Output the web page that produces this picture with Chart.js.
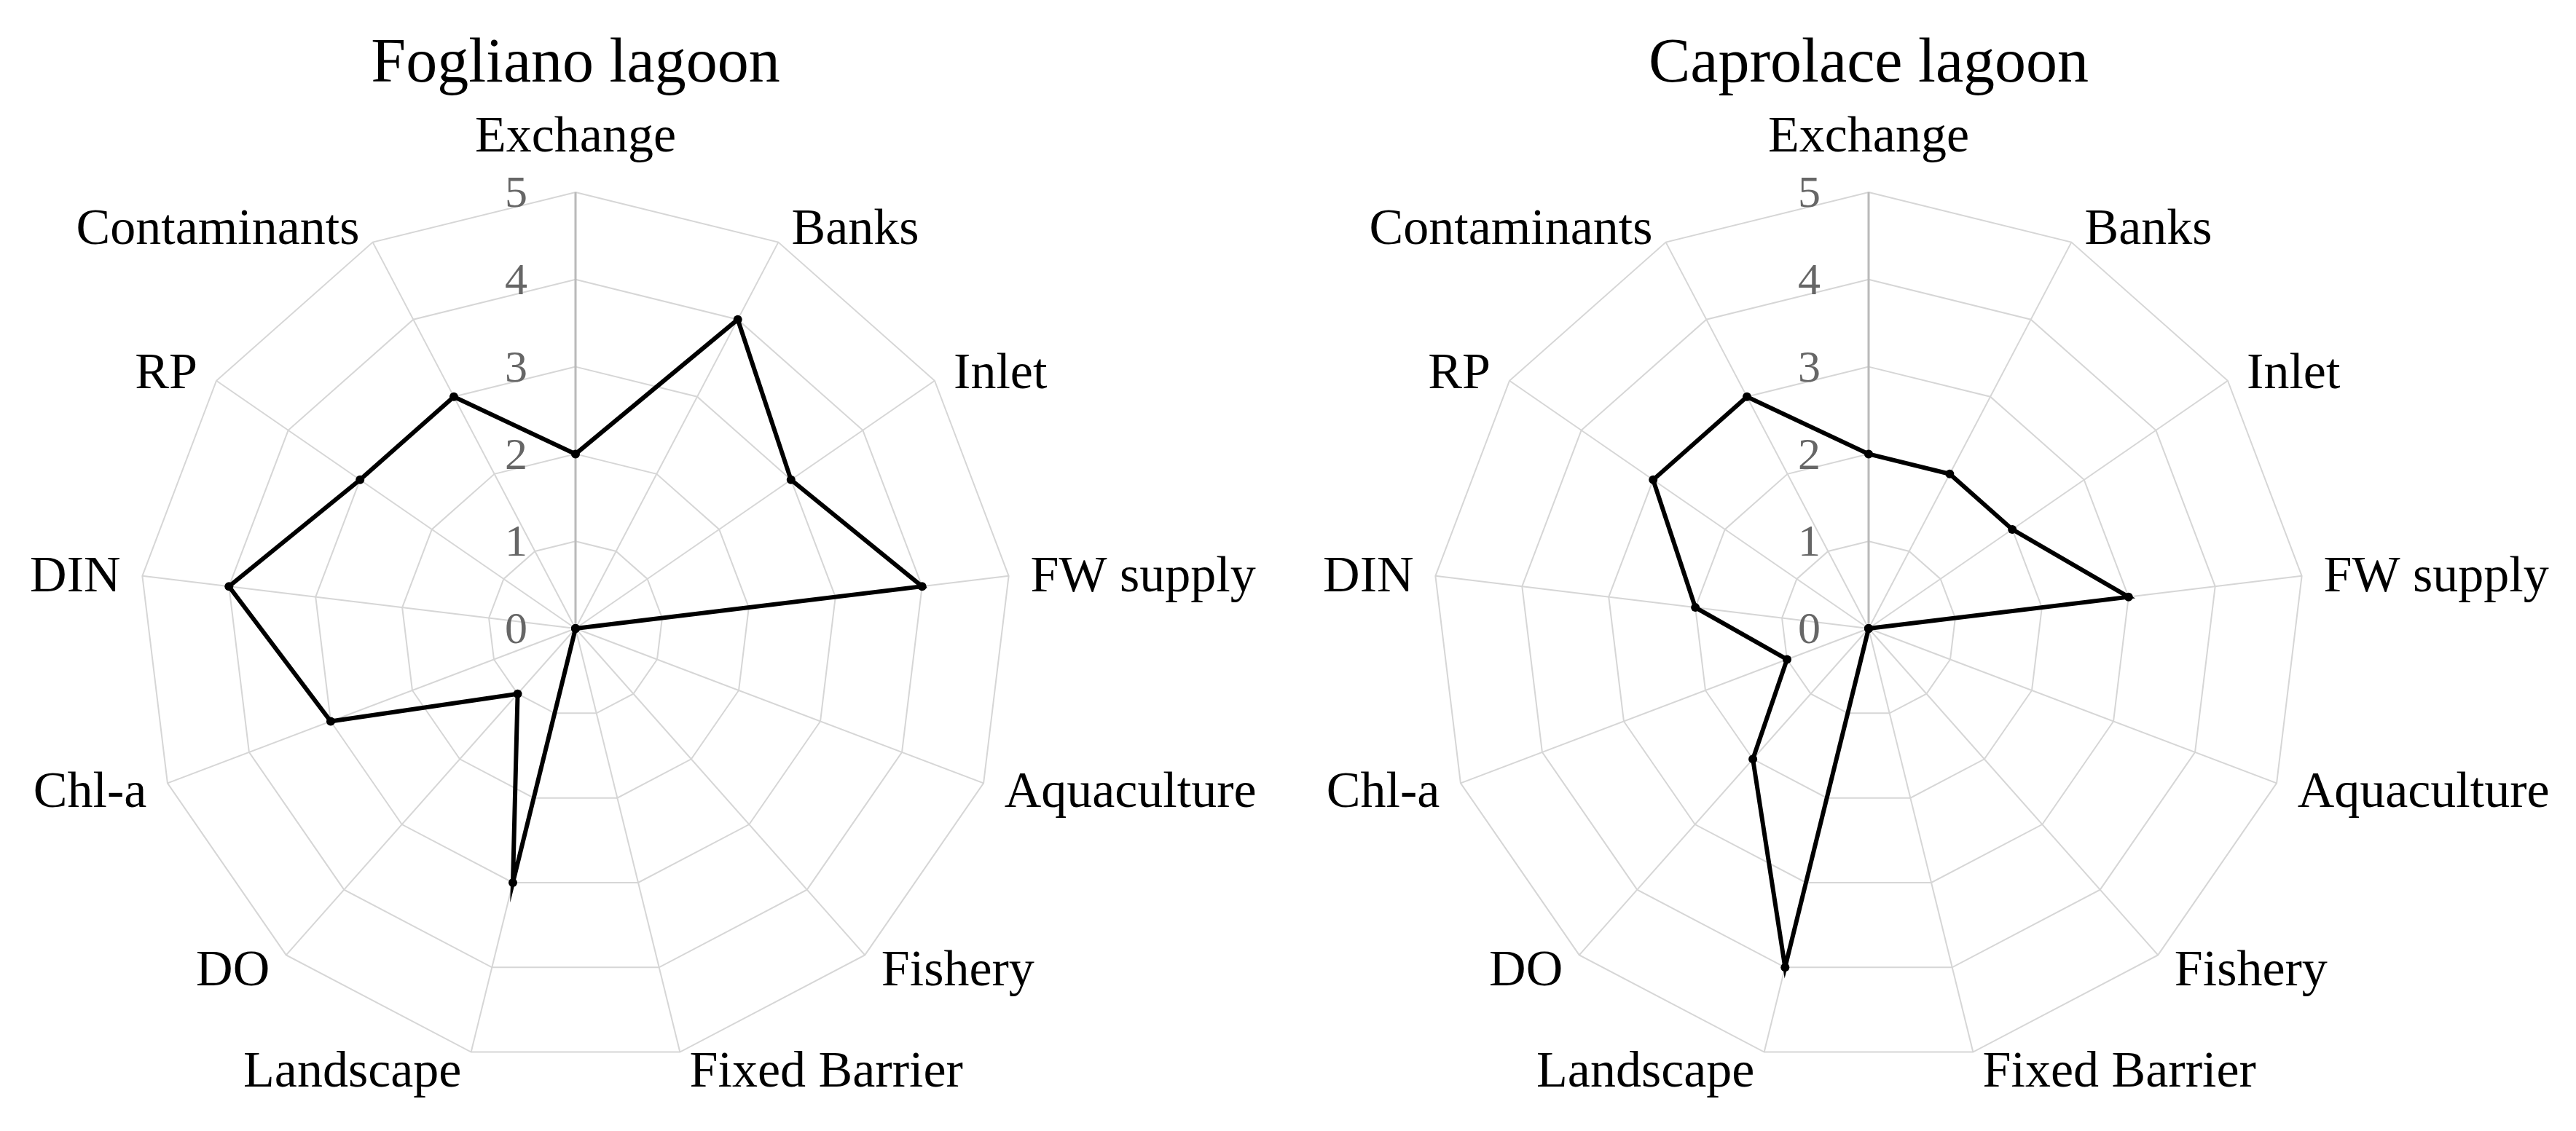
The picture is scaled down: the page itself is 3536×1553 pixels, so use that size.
<!DOCTYPE html>
<html>
<head>
<meta charset="utf-8">
<script src="https://cdn.jsdelivr.net/npm/chart.js@4.4.1/dist/chart.umd.min.js"></script>
<style>
  html, body { margin: 0; padding: 0; background: #fff; }
  #page { position: relative; width: 3536px; height: 1553px; overflow: hidden; background: #fff; }
  canvas { position: absolute; top: 0; }
  #fogliano { left: -197px; }
  #caprolace { left: 1578px; }
</style>
</head>
<body>
<div id="page">
  <canvas id="fogliano" width="1974" height="1553"></canvas>
  <canvas id="caprolace" width="1974" height="1553"></canvas>
</div>
<script>
const indicators = ['Exchange', 'Banks', 'Inlet', 'FW supply', 'Aquaculture', 'Fishery', 'Fixed Barrier',
    'Landscape', 'DO', 'Chl-a', 'DIN', 'RP', 'Contaminants'];
const foglianoScores = [2, 4, 3, 4, 0, 0, 0, 3, 1, 3, 4, 3, 3];
const caprolaceScores = [2, 2, 2, 3, 0, 0, 0, 4, 2, 1, 2, 3, 3];
const scoreTicks = [0, 1, 2, 3, 4, 5];

const serif = "'Liberation Serif', 'Times New Roman', serif";

// Excel style text: axis names hang off the outer polygon corners,
// the scores sit to the left of the first spoke (incl. the 0 that chart.js skips)
const radarText = {
    id: 'radarText',
    beforeDatasetsDraw(chart) {
        const scale = chart.scales.r;
        const ctx = chart.ctx;
        ctx.save();

        ctx.font = '62px ' + serif;
        ctx.fillStyle = '#666666';
        ctx.textAlign = 'right';
        ctx.textBaseline = 'middle';
        scoreTicks.forEach((v) => {
            const y = scale.yCenter - scale.getDistanceFromCenterForValue(v);
            ctx.fillText(String(v), scale.xCenter - 66, y + 4);
        });

        ctx.font = '70px ' + serif;
        ctx.fillStyle = '#000000';
        ctx.textBaseline = 'alphabetic';
        indicators.forEach((name, i) => {
            const angle = scale.getIndexAngle(i);
            const sin = Math.sin(angle);
            const cos = Math.cos(angle);
            const p = scale.getPointPosition(i, scale.drawingArea);
            if (Math.abs(sin) < 0.01) {
                ctx.textAlign = 'center';
                ctx.fillText(name, p.x, p.y - 56);
                return;
            }
            const gap = 8 + 22 * Math.abs(sin);
            ctx.textAlign = sin > 0 ? 'left' : 'right';
            ctx.fillText(name, p.x + (sin > 0 ? gap : -gap), p.y + 24 - 24 * cos);
        });
        ctx.restore();
    }
};

function makeRadar(id, title, scores) {
    return new Chart(document.getElementById(id), {
        type: 'radar',
        data: {
            labels: indicators,
            datasets: [{
                label: title,
                data: scores,
                borderColor: '#000000',
                borderWidth: 6,
                backgroundColor: 'rgba(0,0,0,0)',
                fill: false,
                tension: 0,
                pointRadius: 6,
                pointBackgroundColor: '#000000',
                pointBorderWidth: 0,
            }],
        },
        options: {
            responsive: false,
            animation: false,
            devicePixelRatio: 1,
            events: [],
            layout: {padding: {top: 0, right: 0, bottom: 90, left: 0}},
            plugins: {
                legend: {display: false},
                tooltip: {enabled: false},
                title: {
                    display: true,
                    text: title,
                    color: '#000000',
                    font: {family: serif, size: 86, weight: 'normal'},
                    padding: {top: 38, bottom: 122},
                },
            },
            scales: {
                r: {
                    min: 0,
                    max: 5,
                    ticks: {stepSize: 1, display: false},
                    pointLabels: {display: false},
                    grid: {color: '#d6d6d6', lineWidth: 2},
                    angleLines: {
                        color: (c) => c.index === 0 ? '#bababa' : '#d6d6d6',
                        lineWidth: (c) => c.index === 0 ? 3 : 2,
                    },
                },
            },
        },
        plugins: [radarText],
    });
}

makeRadar('fogliano', 'Fogliano lagoon', foglianoScores);
makeRadar('caprolace', 'Caprolace lagoon', caprolaceScores);
</script>
</body>
</html>
